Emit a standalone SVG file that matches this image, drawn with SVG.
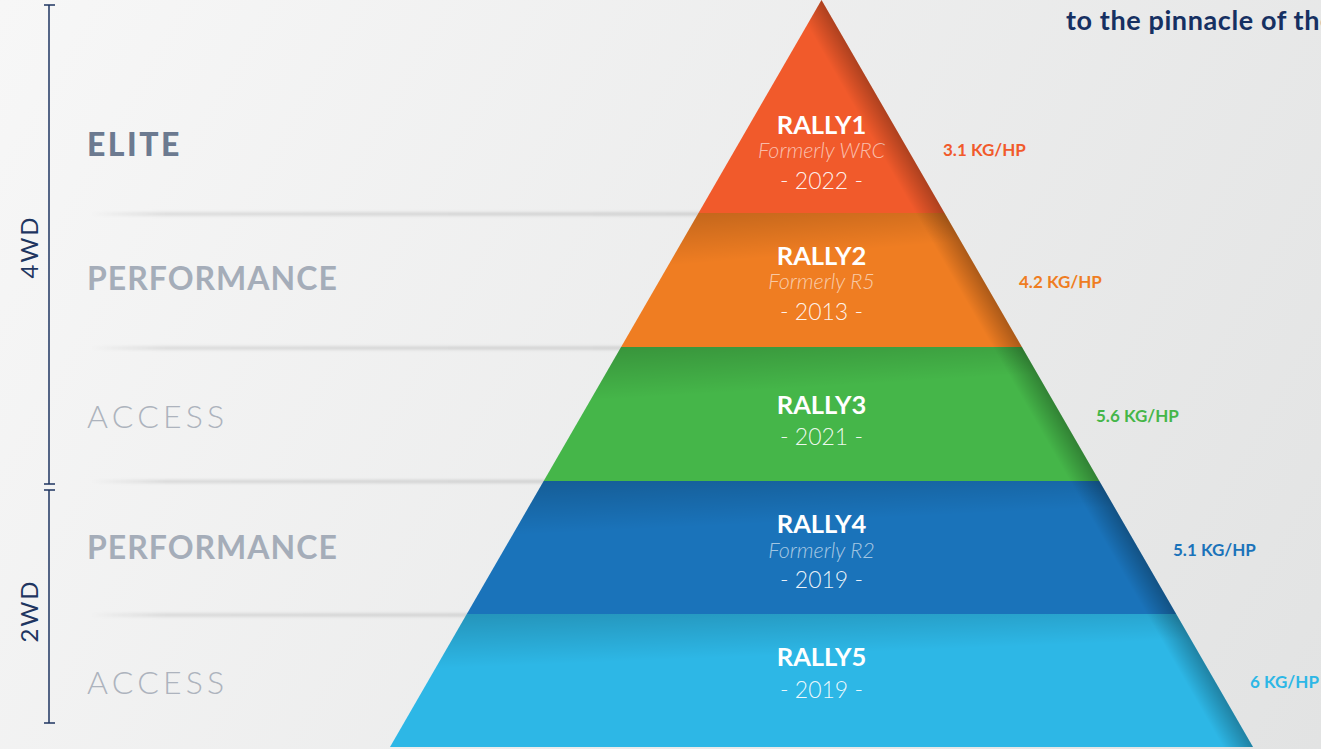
<svg xmlns="http://www.w3.org/2000/svg" width="1321" height="749" viewBox="0 0 1321 749">
<defs>
<linearGradient id="bg" x1="0" y1="0" x2="1321" y2="749" gradientUnits="userSpaceOnUse">
<stop offset="0" stop-color="#f7f7f7"/>
<stop offset="1" stop-color="#e2e3e3"/>
</linearGradient>
<linearGradient id="divg" x1="90" y1="0" x2="720" y2="0" gradientUnits="userSpaceOnUse">
<stop offset="0" stop-color="#000" stop-opacity="0"/>
<stop offset="0.12" stop-color="#000" stop-opacity="0.12"/>
<stop offset="1" stop-color="#000" stop-opacity="0.15"/>
</linearGradient>
<filter id="blur" x="-5%" y="-300%" width="110%" height="700%">
<feGaussianBlur stdDeviation="1.6"/>
</filter>
<linearGradient id="edge" x1="821.5" y1="0" x2="799.8" y2="12.5" gradientUnits="userSpaceOnUse">
<stop offset="0" stop-color="#000" stop-opacity="0.28"/>
<stop offset="1" stop-color="#000" stop-opacity="0"/>
</linearGradient>
<linearGradient id="top" x1="0" y1="0" x2="0.25" y2="1">
<stop offset="0" stop-color="#000" stop-opacity="0.2"/>
<stop offset="0.4" stop-color="#000" stop-opacity="0"/>
</linearGradient>
<style>
.lv{font-family:Lato,"Open Sans","Liberation Sans",sans-serif;}
.b{font-weight:700;}
.perf{fill:#a5adb9;font-size:32px;letter-spacing:1px;}
.acc{fill:#adb3bd;font-size:32px;font-weight:300;letter-spacing:4.2px;}
.elite{fill:#6c7a90;font-size:32px;font-weight:900;letter-spacing:2.5px;}
.wd{fill:#1e3560;font-size:24px;font-weight:400;letter-spacing:2px;}
.rn{fill:#fff;font-size:25.5px;font-weight:700;text-anchor:middle;}
.fm{fill:#fff;fill-opacity:0.62;font-size:21.5px;font-weight:300;font-style:italic;text-anchor:middle;}
.yr{fill:#fff;fill-opacity:0.92;font-size:23px;font-weight:300;text-anchor:middle;}
.kg{font-size:17px;font-weight:700;}
.br{stroke:#1e3560;stroke-width:1.5;fill:none;}
</style>
</defs>
<rect width="1321" height="749" fill="url(#bg)"/>

<g id="dividers" filter="url(#blur)">
<rect x="92" y="212.5" width="620" height="3" fill="url(#divg)"/>
<rect x="92" y="346.5" width="540" height="3" fill="url(#divg)"/>
<rect x="92" y="480" width="460" height="3" fill="url(#divg)"/>
<rect x="92" y="613.5" width="380" height="3" fill="url(#divg)"/>
</g>

<g id="bracket">
<line class="br" x1="49" y1="5" x2="49" y2="484"/>
<line class="br" x1="44" y1="5" x2="55" y2="5"/>
<line class="br" x1="44" y1="484" x2="55" y2="484"/>
<line class="br" x1="49" y1="490" x2="49" y2="723"/>
<line class="br" x1="44" y1="490" x2="55" y2="490"/>
<line class="br" x1="44" y1="723" x2="55" y2="723"/>
<text class="lv wd" transform="translate(38,247) rotate(-90)" text-anchor="middle">4WD</text>
<text class="lv wd" transform="translate(38,611) rotate(-90)" text-anchor="middle">2WD</text>
</g>

<g id="levels">
<text class="lv elite" x="87" y="156">ELITE</text>
<text class="lv b perf" x="87" y="290">PERFORMANCE</text>
<text class="lv acc" x="87" y="428">ACCESS</text>
<text class="lv b perf" x="87" y="559">PERFORMANCE</text>
<text class="lv acc" x="87" y="694">ACCESS</text>
</g>

<g id="rally1">
<polygon points="821.5,0 944.5,213 698.5,213" fill="#f15a2b"/>
<text class="lv rn" x="821.5" y="134">RALLY1</text>
<text class="lv fm" x="821.5" y="158">Formerly WRC</text>
<text class="lv yr" x="821.5" y="189">- 2022 -</text>
<text class="lv kg" x="943" y="156" fill="#f15a2b">3.1 KG/HP</text>
</g>
<g id="rally2">
<polygon points="698.5,213 944.5,213 1021.9,347 621.1,347" fill="#ef7d22"/>
<polygon points="698.5,213 944.5,213 1021.9,347 621.1,347" fill="url(#top)"/>
<text class="lv rn" x="821.5" y="265">RALLY2</text>
<text class="lv fm" x="821.5" y="289">Formerly R5</text>
<text class="lv yr" x="821.5" y="320">- 2013 -</text>
<text class="lv kg" x="1019" y="288" fill="#ef7d22">4.2 KG/HP</text>
</g>
<g id="rally3">
<polygon points="621.1,347 1021.9,347 1099.3,481 543.7,481" fill="#45b649"/>
<polygon points="621.1,347 1021.9,347 1099.3,481 543.7,481" fill="url(#top)"/>
<text class="lv rn" x="821.5" y="414">RALLY3</text>
<text class="lv yr" x="821.5" y="445">- 2021 -</text>
<text class="lv kg" x="1096" y="422" fill="#45b649">5.6 KG/HP</text>
</g>
<g id="rally4">
<polygon points="543.7,481 1099.3,481 1176.2,614 466.8,614" fill="#1a73ba"/>
<polygon points="543.7,481 1099.3,481 1176.2,614 466.8,614" fill="url(#top)"/>
<text class="lv rn" x="821.5" y="533">RALLY4</text>
<text class="lv fm" x="821.5" y="558">Formerly R2</text>
<text class="lv yr" x="821.5" y="588">- 2019 -</text>
<text class="lv kg" x="1173" y="556" fill="#1a73ba">5.1 KG/HP</text>
</g>
<g id="rally5">
<polygon points="466.8,614 1176.2,614 1253,747 390,747" fill="#2db7e6"/>
<polygon points="466.8,614 1176.2,614 1253,747 390,747" fill="url(#top)"/>
<text class="lv rn" x="821.5" y="666">RALLY5</text>
<text class="lv yr" x="821.5" y="698">- 2019 -</text>
<text class="lv kg" x="1250" y="688" fill="#2db7e6">6 KG/HP</text>
</g>
<polygon id="edgeshade" points="821.5,0 1253,747 390,747" fill="url(#edge)"/>

<text id="headline" class="lv b" x="1066" y="30" font-size="27" letter-spacing="0.6" fill="#163062">to the pinnacle of the</text>
</svg>
